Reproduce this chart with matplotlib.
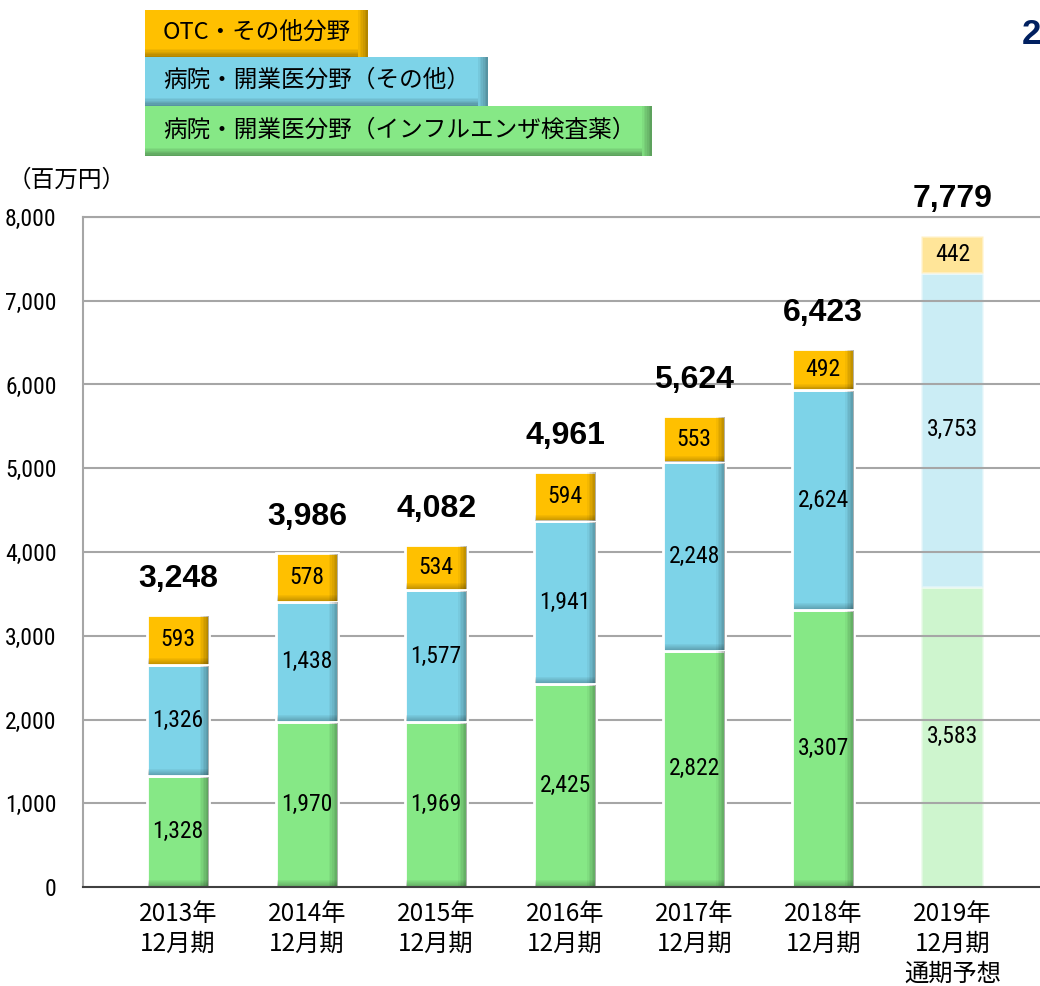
import matplotlib
matplotlib.use("Agg")
import matplotlib.pyplot as plt
from matplotlib.patches import Rectangle
from matplotlib import font_manager
import numpy as np

categories = ["2013年\n12月期", "2014年\n12月期", "2015年\n12月期", "2016年\n12月期",
              "2017年\n12月期", "2018年\n12月期", "2019年\n12月期\n通期予想"]
flu = [1328, 1970, 1969, 2425, 2822, 3307, 3583]
hosp_other = [1326, 1438, 1577, 1941, 2248, 2624, 3753]
otc = [593, 578, 534, 594, 553, 492, 442]
totals = [3248, 3986, 4082, 4961, 5624, 6423, 7779]
yticks = [0, 1000, 2000, 3000, 4000, 5000, 6000, 7000, 8000]
legend_labels = ["OTC・その他分野", "病院・開業医分野（その他）", "病院・開業医分野（インフルエンザ検査薬）"]

C_GREEN = "#86E886"
C_BLUE = "#7DD3E8"
C_ORANGE = "#FFC000"
CJK = ["Noto Sans CJK JP", "DejaVu Sans"]

# find a condensed / narrow sans font if one is installed
cands = []
for f in font_manager.fontManager.ttflist:
    nm = (f.name + " " + str(f.fname)).lower()
    st = str(f.stretch).lower()
    low = str(f.fname).lower()
    if ("narrow" in nm or "condensed" in nm or "condensed" in st) and "bold" not in low \
            and "oblique" not in low and "italic" not in low:
        cands.append(f)
pref = ["liberation sans narrow", "roboto condensed", "open sans condensed", "dejavu sans condensed",
        "noto sans condensed"]
chosen = None
for p in pref:
    for f in cands:
        if p.replace(" ", "") in (f.name + str(f.fname)).lower().replace(" ", "").replace("-", "").replace("_", ""):
            chosen = f
            break
    if chosen:
        break
if chosen is None and cands:
    chosen = cands[0]


def nfp(size):
    if chosen is not None:
        return font_manager.FontProperties(fname=chosen.fname, size=size)
    return font_manager.FontProperties(family="Liberation Sans", size=size * 0.85)


W, H = 1040, 986
fig = plt.figure(figsize=(W / 100, H / 100), dpi=100)
ax = fig.add_axes([83 / W, 1 - 887 / H, 1 - 83 / W + 0.01, (887 - 217) / H])

x = np.arange(len(categories))
bw = 0.48
ax.set_xlim(-0.736, (1050 - 178) / 129)
ax.set_ylim(0, 8000)
for yv in yticks[1:]:
    ax.axhline(yv, color="#A6A6A6", lw=1.5, zorder=1)

series = [(flu, C_GREEN), (hosp_other, C_BLUE), (otc, C_ORANGE)]
bottoms = np.zeros(len(x))
for vals, col in series:
    vals = np.array(vals, dtype=float)
    for i in range(len(x)):
        forecast = i == len(x) - 1
        ax.bar(x[i], vals[i], bw, bottom=bottoms[i], color=col,
               alpha=0.4 if forecast else 1.0, edgecolor="white", lw=2,
               zorder=0.5 if forecast else 2)
        if not forecast:
            n = 6
            sw = 0.07 / n
            for k in range(n):
                ax.bar(x[i] + bw / 2 - 0.07 + sw * (k + 0.5), vals[i] - 20, sw,
                       bottom=bottoms[i] + 10, color="black", alpha=0.04 + 0.05 * k,
                       lw=0, zorder=2.1)
            hb = 70 / n
            for k in range(n):
                ax.bar(x[i], hb, bw - 0.02, bottom=bottoms[i] + 10 + hb * k,
                       color="black", alpha=0.22 - 0.035 * k, lw=0, zorder=2.1)
        ax.text(x[i], bottoms[i] + vals[i] / 2, f"{int(vals[i]):,}", ha="center",
                va="center", fontproperties=nfp(17), zorder=4)
    bottoms += vals

for i, t in enumerate(totals):
    ax.text(x[i], t + 430, f"{t:,}", ha="center", va="center", fontsize=23,
            fontweight="bold", family=["Liberation Sans", "DejaVu Sans"], zorder=4)

ax.set_yticks(yticks)
ax.set_yticklabels([f"{v:,}" for v in yticks])
for lab in ax.get_yticklabels():
    lab.set_fontproperties(nfp(17))
ax.set_xticks(x)
ax.set_xticklabels(categories, family=CJK, fontsize=17.5, linespacing=1.2, va="top")
ax.tick_params(axis="both", length=0)
ax.tick_params(axis="y", pad=19)
ax.tick_params(axis="x", pad=10)
ax.spines["right"].set_visible(False)
ax.spines["left"].set_color("#A6A6A6")
ax.spines["left"].set_linewidth(1.5)
ax.spines["top"].set_color("#A6A6A6")
ax.spines["top"].set_linewidth(1.5)
ax.spines["bottom"].set_color("#404040")
ax.spines["bottom"].set_linewidth(1.5)

fig.text(8 / W, 1 - 180 / H, "（百万円）", family=CJK, fontsize=17, va="center", ha="left")

boxes = [(145, 10, 368, 57, C_ORANGE), (145, 57, 488, 106, C_BLUE), (145, 106, 652, 156, C_GREEN)]
for (x0, y0, x1, y1, col), lab in zip(boxes, legend_labels):
    fig.add_artist(Rectangle((x0 / W, 1 - y1 / H), (x1 - x0) / W, (y1 - y0) / H,
                             transform=fig.transFigure, color=col, lw=0, zorder=1))
    n = 6
    for k in range(n):
        fig.add_artist(Rectangle(((x1 - 10 + k * 10 / n) / W, 1 - y1 / H), (10 / n) / W, (y1 - y0) / H,
                                 transform=fig.transFigure, color="black", alpha=0.05 + 0.05 * k, lw=0, zorder=1.1))
        fig.add_artist(Rectangle((x0 / W, 1 - (y1 - 8 + 8 * (k + 1) / n) / H), (x1 - x0 - 10) / W, (8 / n) / H,
                                 transform=fig.transFigure, color="black", alpha=0.05 + 0.05 * k, lw=0, zorder=1.1))
    fig.text((x0 + 18) / W, 1 - ((y0 + y1) / 2 - 1) / H, lab, family=CJK, fontsize=17,
             va="center", ha="left", zorder=3)

fig.text(1022 / W, 1 - 35 / H, "2", color="#002060", fontsize=25, fontweight="bold",
         family=["Liberation Sans", "DejaVu Sans"], va="center", ha="left")

fig.savefig("out.png", dpi=100)
